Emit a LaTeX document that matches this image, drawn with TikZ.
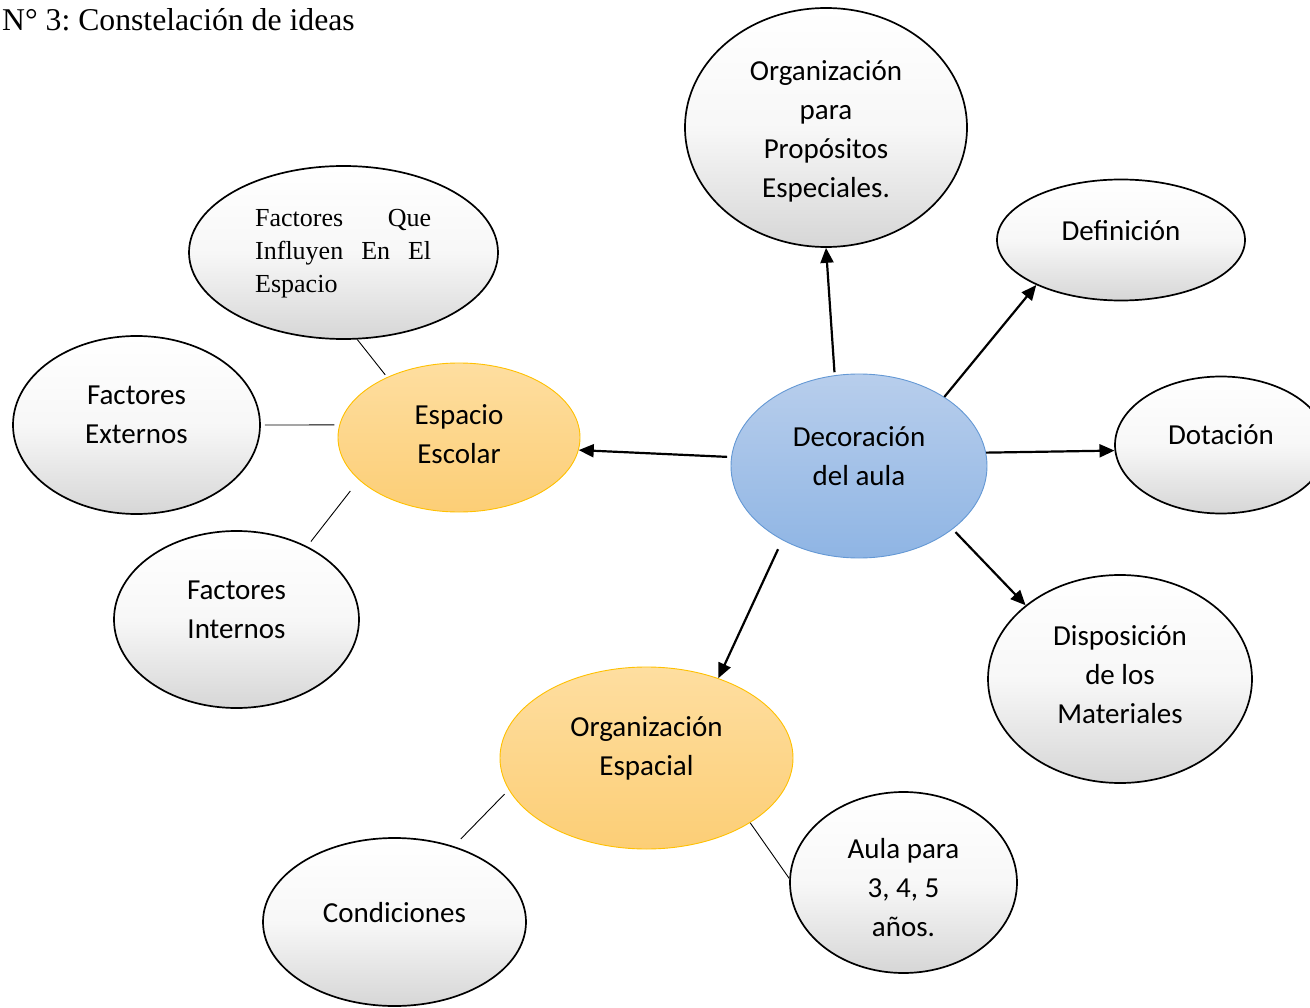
\documentclass[tikz,border=0pt]{standalone}
\usepackage{fontspec}
\setmainfont{Liberation Serif}
\newfontfamily\calfont{Carlito}
\usetikzlibrary{shapes.geometric,arrows.meta}
\definecolor{decfillA}{RGB}{184,206,236}
\definecolor{decfillB}{RGB}{143,181,228}
\definecolor{decline}{RGB}{100,152,212}
\definecolor{orfillA}{RGB}{254,222,160}
\definecolor{orfillB}{RGB}{252,206,118}
\definecolor{orline}{RGB}{255,192,0}
\tikzset{
  bub/.style={ellipse, draw=black, line width=1.7pt, inner sep=0pt, top color=white, bottom color=black!16, middle color=black!3},
  decbub/.style={ellipse, draw=decline, line width=0.9pt, inner sep=0pt, top color=decfillA, bottom color=decfillB},
  orbub/.style={ellipse, draw=orline, line width=0.9pt, inner sep=0pt, top color=orfillA, bottom color=orfillB},
  txt/.style={font=\calfont\fontsize{29}{39}\selectfont, align=center, inner sep=0pt},
  arr/.style={-{Triangle[length=15pt,width=13pt]}, line width=2.2pt},
  link/.style={line width=0.9pt},
}
\frenchspacing
\begin{document}
\begin{tikzpicture}[x=1pt,y=-1pt]
\useasboundingbox (0,0) rectangle (1310,1008);
\clip (0,0) rectangle (1310,1008);

\node[anchor=base west, inner sep=0pt, font=\fontsize{31.7}{38}\selectfont] (title) at (2,31) {N° 3: Constelación de ideas};

% ellipses
\node[bub, minimum width=282pt, minimum height=239pt] (opp) at (826,127.5) {};
\node[bub, minimum width=248pt, minimum height=121pt] (def) at (1121,240) {};
\node[bub, minimum width=212pt, minimum height=137pt] (dot) at (1221,445) {};
\node[decbub, minimum width=256pt, minimum height=184pt] (dec) at (859,466) {};
\node[bub, minimum width=264pt, minimum height=208pt] (dis) at (1120,679) {};
\node[orbub, minimum width=293pt, minimum height=182pt] (oe) at (646.5,758) {};
\node[bub, minimum width=227pt, minimum height=181pt] (aula) at (903.5,882.5) {};
\node[bub, minimum width=263pt, minimum height=168pt] (cond) at (394.5,922) {};
\node[bub, minimum width=245pt, minimum height=177pt] (fint) at (236.5,619.5) {};
\node[bub, minimum width=247pt, minimum height=178pt] (fext) at (136.5,425) {};
\node[orbub, minimum width=242pt, minimum height=149pt] (esc) at (459,437.5) {};
\node[bub, minimum width=309pt, minimum height=173pt] (fq) at (343.5,252.5) {};

% texts
\node[txt] (opp-t) at (826,131) {Organización\\para\\Propósitos\\Especiales.};
\node[txt] (def-t) at (1121,231) {Definición};
\node[txt] (dot-t) at (1221,435) {Dotación};
\node[txt] (dec-t) at (859,456) {Decoración\\del aula};
\node[txt] (dis-t) at (1120,675) {Disposición\\de los\\Materiales};
\node[txt] (oe-t) at (646.5,748) {Organización\\Espacial};
\node[txt] (aula-t) at (903.5,888) {Aula para\\3, 4, 5\\años.};
\node[txt] (cond-t) at (394.5,913) {Condiciones};
\node[txt] (fint-t) at (236.5,609.5) {Factores\\Internos};
\node[txt] (fext-t) at (136.5,414.5) {Factores\\Externos};
\node[txt] (esc-t) at (459,434.5) {Espacio\\Escolar};
\node[anchor=north west, inner sep=0pt, align=left, font=\fontsize{26}{33}\selectfont] (fq-t) at (255,209.4)
  {\makebox[176pt][s]{Factores\hfill Que}\\\makebox[176pt][s]{Influyen\hfill En\hfill El}\\Espacio};

% arrows from Decoración
\draw[arr, shorten <=3pt] (dec.105) -- (opp.270);
\draw[arr] (dec.39) -- (def.208);
\draw[arr] (dec.6) -- (dot.183);
\draw[arr, shorten <=4pt] (dec.326) -- (dis.142);
\draw[arr, shorten <=10pt] (dec.224) -- (oe.48);
\draw[arr, shorten <=4pt] (dec.176.5) -- (esc.354);

% thin links
\draw[link, shorten >=3pt] (fq.279) -- (esc.140.6);
\draw[link, shorten <=4pt, shorten >=5pt] (fext.0) -- (esc.174.3);
\draw[link, shorten <=6pt, shorten >=14pt] (fint.46) -- (esc.203.4);
\draw[link, shorten <=6pt, shorten >=10pt] (oe.193.4) -- (cond.52.9);
\draw[link] (oe.328) -- (aula.178.7);
\end{tikzpicture}
\end{document}
